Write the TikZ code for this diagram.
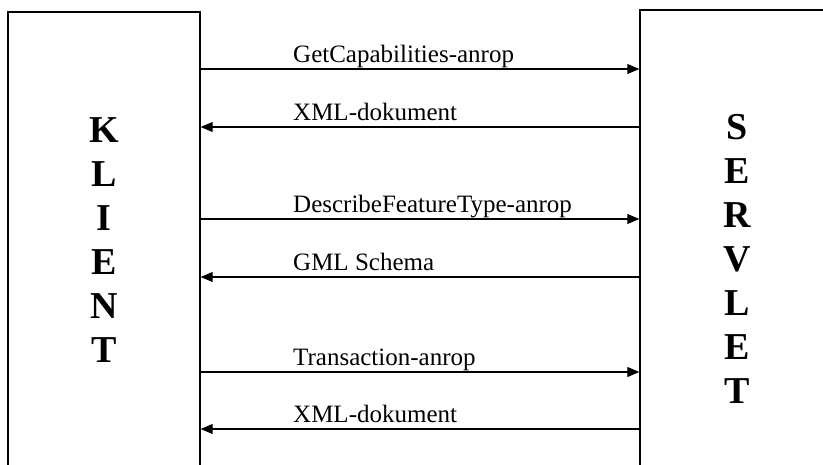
\documentclass[tikz,border=0pt]{standalone}
\usepackage{fontspec}
\setmainfont{Liberation Serif}
\usetikzlibrary{arrows.meta}
\begin{document}
\begin{tikzpicture}[x=1pt,y=-1pt,
  side/.style={draw, line width=1.4pt, align=center, inner sep=0pt, font=\fontsize{38}{44}\selectfont\bfseries},
  msg/.style={line width=1.1pt, -{Triangle[length=12pt,width=10pt]}},
  lbl/.style={anchor=base west, inner sep=0pt, font=\fontsize{25}{30}\selectfont}]
\clip (0,0) rectangle (823,464);
\node[side, minimum width=192pt, minimum height=456pt] (klient) at (104,240) {K\\L\\I\\E\\N\\T};
\node[side, minimum width=194pt, minimum height=498pt] (servlet) at (737,259) {S\\E\\R\\V\\L\\E\\T};

\draw[msg] (klient.east |- 0,69) -- (servlet.west |- 0,69);
\draw[msg] (servlet.west |- 0,127) -- (klient.east |- 0,127);
\draw[msg] (klient.east |- 0,219) -- (servlet.west |- 0,219);
\draw[msg] (servlet.west |- 0,277) -- (klient.east |- 0,277);
\draw[msg] (klient.east |- 0,372) -- (servlet.west |- 0,372);
\draw[msg] (servlet.west |- 0,429) -- (klient.east |- 0,429);

\node[lbl] (getcap) at (293,62) {GetCapabilities-anrop};
\node[lbl] (xml1) at (293,120) {XML-dokument};
\node[lbl] (descft) at (293,212) {DescribeFeatureType-anrop};
\node[lbl] (gml) at (293,270) {GML Schema};
\node[lbl] (trans) at (293,365) {Transaction-anrop};
\node[lbl] (xml2) at (293,422) {XML-dokument};
\end{tikzpicture}
\end{document}
